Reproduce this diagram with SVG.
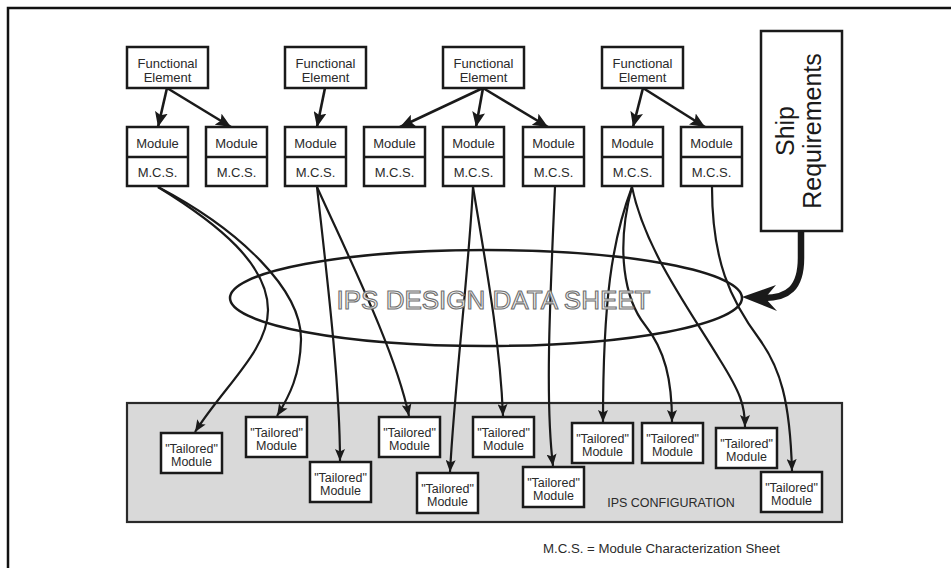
<svg xmlns="http://www.w3.org/2000/svg" width="951" height="568" viewBox="0 0 951 568">
  <style>
    .box { fill: #ffffff; stroke: #1a1a1a; stroke-width: 2.5; }
    .lbl { font-family: "Liberation Sans", Arial, sans-serif; font-size: 13px; fill: #2a2a2a; text-anchor: middle; }
    .tl { font-family: "Liberation Sans", Arial, sans-serif; font-size: 12.5px; fill: #2a2a2a; text-anchor: middle; }
    .link { fill: none; stroke: #1a1a1a; stroke-width: 2.2; }
    .feed { fill: none; stroke: #1a1a1a; stroke-width: 2.6; }
  </style>
  <defs>
    <marker id="ahBig" viewBox="0 0 15 13" refX="15" refY="6.5" markerWidth="15" markerHeight="13" markerUnits="userSpaceOnUse" orient="auto">
      <path d="M0,0 L15,6.5 L0,13 L3,6.5 z" fill="#1a1a1a"/>
    </marker>
    <marker id="ahSmall" viewBox="0 0 12 10" refX="12" refY="5" markerWidth="12" markerHeight="10" markerUnits="userSpaceOnUse" orient="auto">
      <path d="M0,0 L12,5 L0,10 L2.5,5 z" fill="#1a1a1a"/>
    </marker>
  </defs>

  <rect width="951" height="568" fill="#ffffff"/>
  <!-- page frame -->
  <rect x="8" y="8" width="1000" height="1000" fill="none" stroke="#111" stroke-width="2.5"/>

  <!-- configuration panel -->
  <g id="ips-configuration">
    <rect x="127" y="403" width="715" height="119" fill="#d9d9d9" stroke="#2a2a2a" stroke-width="2.2"/>
    <text class="tl" x="671" y="507" font-size="12.5">IPS CONFIGURATION</text>
  </g>

  <!-- data sheet ellipse -->
  <g id="design-data-sheet">
    <ellipse cx="486" cy="298" rx="256" ry="48" fill="none" stroke="#1a1a1a" stroke-width="2.5"/>
  </g>

  <!-- connectors -->
  <g id="connectors">
    <!-- functional element to module -->
    <line class="feed" x1="167" y1="88" x2="158" y2="127" marker-end="url(#ahBig)"/>
    <line class="feed" x1="167" y1="88" x2="231" y2="127" marker-end="url(#ahBig)"/>
    <line class="feed" x1="325" y1="88" x2="317" y2="127" marker-end="url(#ahBig)"/>
    <line class="feed" x1="483" y1="88" x2="400" y2="127" marker-end="url(#ahBig)"/>
    <line class="feed" x1="483" y1="88" x2="476" y2="127" marker-end="url(#ahBig)"/>
    <line class="feed" x1="483" y1="88" x2="548" y2="127" marker-end="url(#ahBig)"/>
    <line class="feed" x1="643" y1="88" x2="633" y2="127" marker-end="url(#ahBig)"/>
    <line class="feed" x1="643" y1="88" x2="705" y2="127" marker-end="url(#ahBig)"/>

    <!-- module characterization sheet to tailored module -->
    <path class="link" d="M158,187 C220,225 268,265 268,310 C268,350 225,385 195,432" marker-end="url(#ahSmall)"/>
    <path class="link" d="M158,187 C240,230 302,290 301,340 C300,375 290,395 277,416" marker-end="url(#ahSmall)"/>
    <path class="link" d="M317,187 C325,260 340,380 340,461" marker-end="url(#ahSmall)"/>
    <path class="link" d="M317,187 C350,260 395,350 409,416" marker-end="url(#ahSmall)"/>
    <path class="link" d="M473,187 C468,280 455,380 450,472" marker-end="url(#ahSmall)"/>
    <path class="link" d="M473,187 C485,260 500,340 503,416" marker-end="url(#ahSmall)"/>
    <path class="link" d="M555,187 C550,300 545,400 553,466" marker-end="url(#ahSmall)"/>
    <path class="link" d="M632,187 C612,240 603,300 603,422" marker-end="url(#ahSmall)"/>
    <path class="link" d="M632,187 C615,250 625,300 645,325 C665,350 672,380 672,422" marker-end="url(#ahSmall)"/>
    <path class="link" d="M632,187 C645,250 690,310 720,360 C740,392 745,405 745,427" marker-end="url(#ahSmall)"/>
    <path class="link" d="M712,187 C712,260 730,300 760,340 C780,368 790,400 792,471" marker-end="url(#ahSmall)"/>

    <!-- ship requirements feed into the data sheet -->
    <path d="M801,231 L801,258 C801,288 788,298 764,298" fill="none" stroke="#1a1a1a" stroke-width="6.5"/>
    <path d="M742,297 L776,285 L765,298 L777,311 z" fill="#1a1a1a"/>
  </g>

  <!-- data sheet title drawn over the crossing lines -->
  <text x="493.5" y="309" font-family="'Liberation Sans', Arial, sans-serif" font-size="26" text-anchor="middle" fill="#f2f2f2" stroke="#707070" stroke-width="1.1">IPS DESIGN DATA SHEET</text>

  <!-- functional elements -->
  <g id="fe-1"><rect class="box" x="127" y="47" width="81" height="41"/><text class="lbl" x="167.5" y="67.5">Functional</text><text class="lbl" x="167.5" y="81.5">Element</text></g>
  <g id="fe-2"><rect class="box" x="285" y="47" width="81" height="41"/><text class="lbl" x="325.5" y="67.5">Functional</text><text class="lbl" x="325.5" y="81.5">Element</text></g>
  <g id="fe-3"><rect class="box" x="443" y="47" width="81" height="41"/><text class="lbl" x="483.5" y="67.5">Functional</text><text class="lbl" x="483.5" y="81.5">Element</text></g>
  <g id="fe-4"><rect class="box" x="602" y="47" width="81" height="41"/><text class="lbl" x="642.5" y="67.5">Functional</text><text class="lbl" x="642.5" y="81.5">Element</text></g>

  <!-- modules with their characterization sheets -->
  <g id="module-1"><rect class="box" x="127" y="127" width="61" height="59"/><line x1="127" y1="157" x2="188" y2="157" stroke="#1a1a1a" stroke-width="2.5"/><text class="lbl" x="157.5" y="148">Module</text><text class="lbl" x="157.5" y="177">M.C.S.</text></g>
  <g id="module-2"><rect class="box" x="206" y="127" width="61" height="59"/><line x1="206" y1="157" x2="267" y2="157" stroke="#1a1a1a" stroke-width="2.5"/><text class="lbl" x="236.5" y="148">Module</text><text class="lbl" x="236.5" y="177">M.C.S.</text></g>
  <g id="module-3"><rect class="box" x="285" y="127" width="61" height="59"/><line x1="285" y1="157" x2="346" y2="157" stroke="#1a1a1a" stroke-width="2.5"/><text class="lbl" x="315.5" y="148">Module</text><text class="lbl" x="315.5" y="177">M.C.S.</text></g>
  <g id="module-4"><rect class="box" x="364" y="127" width="61" height="59"/><line x1="364" y1="157" x2="425" y2="157" stroke="#1a1a1a" stroke-width="2.5"/><text class="lbl" x="394.5" y="148">Module</text><text class="lbl" x="394.5" y="177">M.C.S.</text></g>
  <g id="module-5"><rect class="box" x="443" y="127" width="61" height="59"/><line x1="443" y1="157" x2="504" y2="157" stroke="#1a1a1a" stroke-width="2.5"/><text class="lbl" x="473.5" y="148">Module</text><text class="lbl" x="473.5" y="177">M.C.S.</text></g>
  <g id="module-6"><rect class="box" x="523" y="127" width="61" height="59"/><line x1="523" y1="157" x2="584" y2="157" stroke="#1a1a1a" stroke-width="2.5"/><text class="lbl" x="553.5" y="148">Module</text><text class="lbl" x="553.5" y="177">M.C.S.</text></g>
  <g id="module-7"><rect class="box" x="602" y="127" width="61" height="59"/><line x1="602" y1="157" x2="663" y2="157" stroke="#1a1a1a" stroke-width="2.5"/><text class="lbl" x="632.5" y="148">Module</text><text class="lbl" x="632.5" y="177">M.C.S.</text></g>
  <g id="module-8"><rect class="box" x="681" y="127" width="61" height="59"/><line x1="681" y1="157" x2="742" y2="157" stroke="#1a1a1a" stroke-width="2.5"/><text class="lbl" x="711.5" y="148">Module</text><text class="lbl" x="711.5" y="177">M.C.S.</text></g>

  <!-- ship requirements -->
  <g id="ship-requirements">
    <rect class="box" x="761" y="31" width="81" height="200"/>
    <text font-family="'Liberation Sans', Arial, sans-serif" font-size="25" fill="#1a1a1a" text-anchor="middle" transform="translate(801,131) rotate(-90)"><tspan x="0" y="-7">Ship</tspan><tspan x="0" y="20">Requirements</tspan></text>
  </g>

  <!-- tailored modules -->
  <g id="tailored-1"><rect class="box" x="161" y="433" width="61" height="40"/><text class="tl" x="191.5" y="453">"Tailored"</text><text class="tl" x="191.5" y="466">Module</text></g>
  <g id="tailored-2"><rect class="box" x="246" y="417" width="61" height="40"/><text class="tl" x="276.5" y="437">"Tailored"</text><text class="tl" x="276.5" y="450">Module</text></g>
  <g id="tailored-3"><rect class="box" x="310" y="462" width="61" height="40"/><text class="tl" x="340.5" y="482">"Tailored"</text><text class="tl" x="340.5" y="495">Module</text></g>
  <g id="tailored-4"><rect class="box" x="379" y="417" width="61" height="40"/><text class="tl" x="409.5" y="437">"Tailored"</text><text class="tl" x="409.5" y="450">Module</text></g>
  <g id="tailored-5"><rect class="box" x="417" y="473" width="61" height="40"/><text class="tl" x="447.5" y="493">"Tailored"</text><text class="tl" x="447.5" y="506">Module</text></g>
  <g id="tailored-6"><rect class="box" x="473" y="417" width="61" height="40"/><text class="tl" x="503.5" y="437">"Tailored"</text><text class="tl" x="503.5" y="450">Module</text></g>
  <g id="tailored-7"><rect class="box" x="523" y="467" width="61" height="40"/><text class="tl" x="553.5" y="487">"Tailored"</text><text class="tl" x="553.5" y="500">Module</text></g>
  <g id="tailored-8"><rect class="box" x="572" y="423" width="61" height="40"/><text class="tl" x="602.5" y="443">"Tailored"</text><text class="tl" x="602.5" y="456">Module</text></g>
  <g id="tailored-9"><rect class="box" x="642" y="423" width="61" height="40"/><text class="tl" x="672.5" y="443">"Tailored"</text><text class="tl" x="672.5" y="456">Module</text></g>
  <g id="tailored-10"><rect class="box" x="716" y="428" width="61" height="40"/><text class="tl" x="746.5" y="448">"Tailored"</text><text class="tl" x="746.5" y="461">Module</text></g>
  <g id="tailored-11"><rect class="box" x="761" y="472" width="61" height="40"/><text class="tl" x="791.5" y="492">"Tailored"</text><text class="tl" x="791.5" y="505">Module</text></g>

  <!-- legend -->
  <text x="543" y="553" font-family="'Liberation Sans', Arial, sans-serif" font-size="12" fill="#2a2a2a" textLength="237" lengthAdjust="spacingAndGlyphs">M.C.S. = Module Characterization Sheet</text>
</svg>
